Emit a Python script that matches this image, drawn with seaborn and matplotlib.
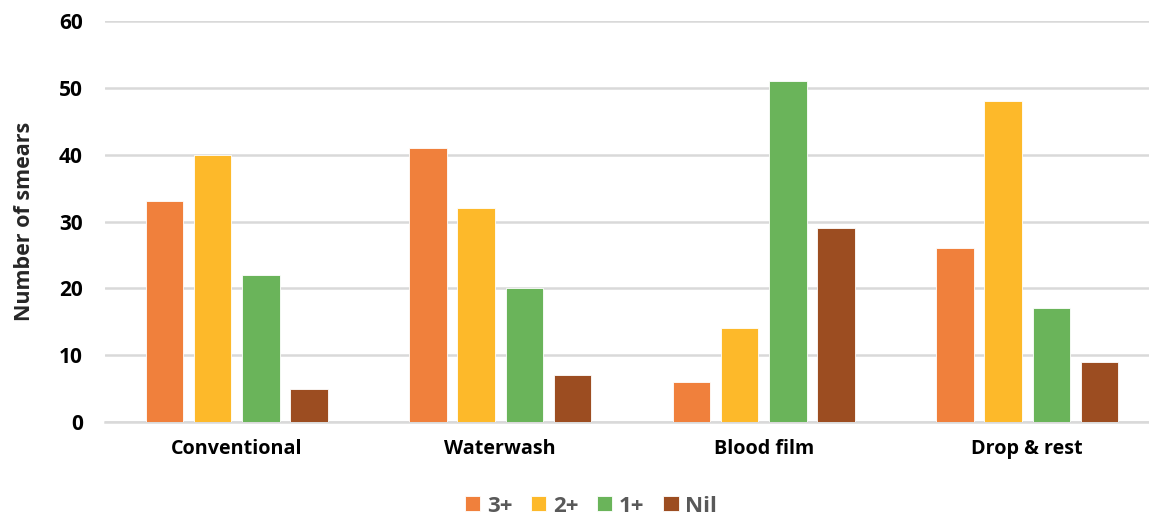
import matplotlib
matplotlib.use("Agg")
import matplotlib.pyplot as plt
import seaborn as sns
import pandas as pd

methods = ["Conventional", "Waterwash", "Blood film", "Drop & rest"]
grades = ["3+", "2+", "1+", "Nil"]
counts_3plus = [33, 41, 6, 26]
counts_2plus = [40, 32, 14, 48]
counts_1plus = [22, 20, 51, 17]
counts_nil = [5, 7, 29, 9]
y_ticks = [0, 10, 20, 30, 40, 50, 60]

palette = ["#F0803C", "#FDB92A", "#6AB45A", "#9C4D21"]

rows = []
for grade, vals in zip(grades, [counts_3plus, counts_2plus, counts_1plus, counts_nil]):
    for m, v in zip(methods, vals):
        rows.append({"Method": m, "Grade": grade, "Count": v})
df = pd.DataFrame(rows)

sns.set_theme(style="white")
plt.rcParams["font.family"] = ["Open Sans", "DejaVu Sans"]

fig = plt.figure(figsize=(11.49, 5.17), dpi=100)
ax = fig.add_axes([105 / 1149, 1 - 422 / 517, 1054 / 1149, (422 - 21) / 517])

sns.barplot(data=df, x="Method", y="Count", hue="Grade", hue_order=grades,
            order=methods, palette=palette, width=0.73, gap=0.22,
            edgecolor="white", linewidth=0.6, saturation=1, ax=ax, zorder=3)

ax.set_xlim(-0.5, 3.5)
ax.set_ylim(0, 60)
ax.set_yticks(y_ticks)
ax.yaxis.grid(True, color="#D9D9D9", linewidth=1.8, zorder=0)
ax.set_axisbelow(True)
for s in ["top", "right", "left"]:
    ax.spines[s].set_visible(False)
ax.spines["bottom"].set_color("#D9D9D9")
ax.spines["bottom"].set_linewidth(1.8)
ax.tick_params(axis="both", length=0, colors="black")
ax.tick_params(axis="x", labelsize=14.2, pad=12)
ax.tick_params(axis="y", labelsize=15, pad=16)
for lbl in ax.get_xticklabels() + ax.get_yticklabels():
    lbl.set_fontweight("bold")
ax.set_xlabel("")
ax.set_ylabel("Number of smears", fontsize=15.5, fontweight="bold", labelpad=17)

handles, labels = ax.get_legend_handles_labels()
ax.get_legend().remove()
leg = fig.legend(handles, labels, loc="center", bbox_to_anchor=(591 / 1149, 1 - 506 / 517),
                 ncol=4, frameon=False, handlelength=0.68, handleheight=0.68,
                 handletextpad=0.3, columnspacing=0.85,
                 prop={"size": 16, "weight": "bold"})
for t in leg.get_texts():
    t.set_color("#595959")

fig.savefig("out.png", dpi=100)
